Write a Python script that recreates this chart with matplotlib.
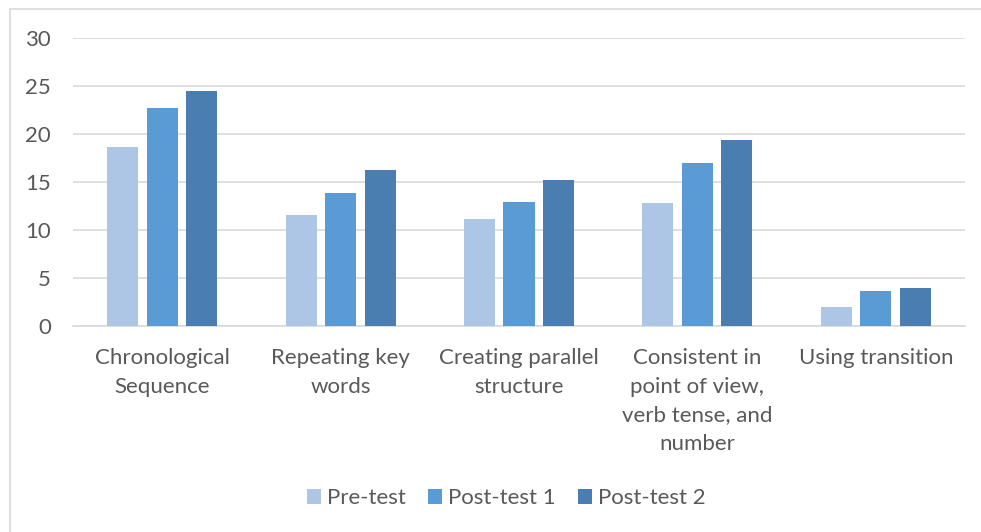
import numpy as np
import matplotlib.pyplot as plt
from matplotlib.patches import Rectangle

# Datos del gráfico
categories = ['Chronological\nSequence', 'Repeating key\nwords', 'Creating parallel\nstructure',
              'Consistent in\npoint of view,\nverb tense, and\nnumber', 'Using transition']
pre_test = [18.6, 11.6, 11.1, 12.8, 2.0]
post_test_1 = [22.7, 13.9, 12.9, 17.0, 3.6]
post_test_2 = [24.5, 16.2, 15.2, 19.4, 4.0]
series_names = ['Pre-test', 'Post-test 1', 'Post-test 2']
colors = ['#ADC6E5', '#5B9BD5', '#4A7EB0']
text_color = '#595959'

plt.rcParams['font.family'] = ['Lato', 'DejaVu Sans']

fig = plt.figure(figsize=(9.81, 5.32), dpi=100)
ax = fig.add_axes([73 / 981, 1 - 326 / 532, (965 - 73) / 981, (326 - 38) / 532])

x = np.arange(len(categories))
width = 0.174
step = 0.221
for i, (vals, name) in enumerate(zip([pre_test, post_test_1, post_test_2], series_names)):
    ax.bar(x + (i - 1) * step, vals, width, color=colors[i], label=name, zorder=3)

ax.set_xlim(-0.5, len(categories) - 0.5)
ax.set_ylim(0, 30)
ax.set_yticks(range(0, 31, 5))
ax.yaxis.grid(True, color='#D9D9D9', linewidth=1.2, zorder=0)
ax.set_axisbelow(True)
for s in ['top', 'right', 'left']:
    ax.spines[s].set_visible(False)
ax.spines['bottom'].set_color('#D9D9D9')
ax.spines['bottom'].set_linewidth(1.2)
ax.tick_params(axis='both', length=0, colors=text_color, labelsize=16)
ax.tick_params(axis='y', pad=16)
ax.tick_params(axis='x', pad=16)
ax.set_xticks(x)
ax.set_xticklabels(categories, linespacing=1.53)

fig.legend(loc='center', bbox_to_anchor=(0.516, 0.064), ncol=3, frameon=False,
           fontsize=16, labelcolor=text_color, handlelength=0.65, handleheight=0.65,
           handletextpad=0.25, columnspacing=1.0)

# Borde del área del gráfico
fig.patches.append(Rectangle((10 / 981, -0.1), 1.2, 1 - 9 / 532 + 0.1, transform=fig.transFigure,
                             fill=False, edgecolor='#D9D9D9', linewidth=1.2))

fig.savefig('out.png', dpi=100)
